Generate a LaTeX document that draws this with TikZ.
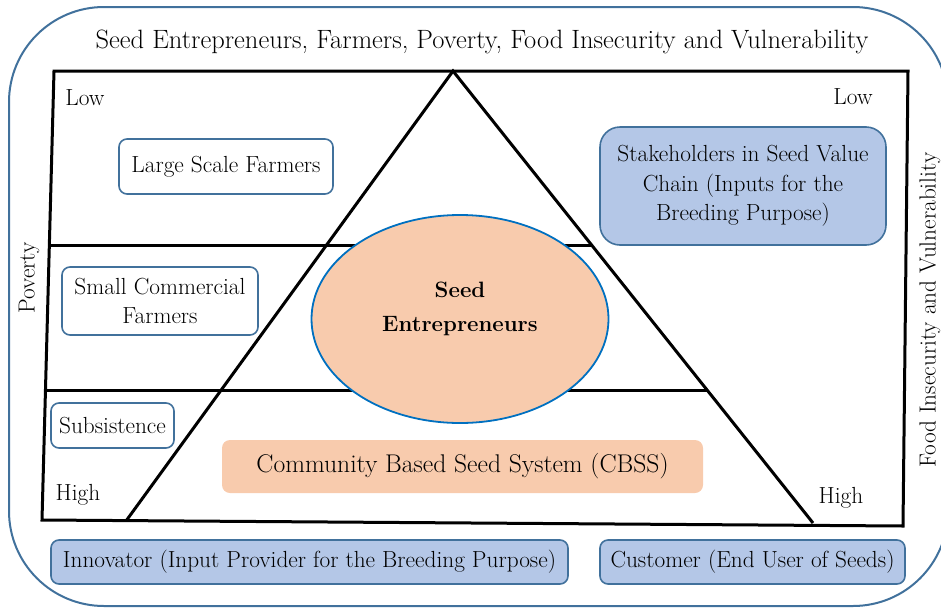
\documentclass[tikz,border=0pt]{standalone}
\usepackage{fontspec}
\usetikzlibrary{shapes.geometric}

\definecolor{edgeblue}{RGB}{65,113,156}
\definecolor{paleblue}{RGB}{180,199,231}
\definecolor{peach}{RGB}{248,203,173}
\definecolor{ringblue}{RGB}{0,112,192}

\tikzstyle{outer} = [draw=edgeblue, line width=2pt, rounded corners=95pt]
\tikzstyle{frameline} = [line width=3pt, black]
\tikzstyle{farmer} = [rectangle, rounded corners=8pt, draw=edgeblue, line width=1.6pt, fill=white, inner sep=0pt, text centered, align=center]
\tikzstyle{actor} = [rectangle, rounded corners=8pt, draw=edgeblue, line width=1.6pt, fill=paleblue, inner sep=0pt, text centered, align=center]
\tikzstyle{core} = [ellipse, draw=ringblue, line width=1.8pt, fill=peach, inner sep=0pt, align=center]
\tikzstyle{level} = [inner sep=0pt]

\begin{document}
\begin{tikzpicture}[x=1pt, y=-1pt, font=\fontsize{23.3}{29.5}\selectfont]
  \clip (0,0) rectangle (941,608);
  \draw[outer] (9,7) rectangle (948,606);

  % frame and pyramid
  \coordinate (tl) at (54,71);
  \coordinate (tr) at (908,71);
  \coordinate (br) at (903,526);
  \coordinate (bl) at (42,520);
  \coordinate (apex) at (453,71);
  \coordinate (baseL) at (126,521);
  \coordinate (baseR) at (813,523);
  \coordinate (upL) at (49.3,245);
  \coordinate (upR) at (591.6,245);
  \coordinate (lowL) at (45.5,390);
  \coordinate (lowR) at (707,390);

  \draw[frameline] (tl) -- (tr) -- (br) -- (bl) -- cycle;
  \draw[frameline] (baseL) -- (apex) -- (baseR);
  \draw[frameline] (upL) -- (upR);
  \draw[frameline] (lowL) -- (lowR);

  \node (title) [font=\fontsize{26.5}{30}\selectfont] at (482,42) {Seed Entrepreneurs, Farmers, Poverty, Food Insecurity and Vulnerability};
  \node (lowleft) [level] at (85,98) {Low};
  \node (lowright) [level] at (853,97) {Low};
  \node (highleft) [level] at (78,495) {High};
  \node (highright) [level] at (841,498) {High};
  \node (poverty) [level, rotate=90] at (29,278) {Poverty};
  \node (food) [level, rotate=90] at (930,310) {Food Insecurity and Vulnerability};

  \node (seed) [core, minimum width=297pt, minimum height=208pt,
    label={[align=center, font=\fontsize{22.2}{34}\selectfont\bfseries, yshift=10pt]center:Seed\\Entrepreneurs}] at (460,319) {};

  \node (large) [farmer, minimum width=214pt, minimum height=55pt] at (226,166.5) {Large Scale Farmers};
  \node (small) [farmer, minimum width=196pt, minimum height=68pt] at (160,301) {Small Commercial\\Farmers};
  \node (subs) [farmer, minimum width=123pt, minimum height=45pt] at (112.5,425.5) {Subsistence};
  \node (chain) [actor, rounded corners=20pt, minimum width=286pt, minimum height=118pt] at (743,186) {Stakeholders in Seed Value\\Chain (Inputs for the\\Breeding Purpose)};
  \node (cbss) [rectangle, rounded corners=8pt, fill=peach, minimum width=481pt, minimum height=53pt, font=\fontsize{25.6}{30}\selectfont] at (462.5,466.5) {Community Based Seed System (CBSS)};
  \node (innovator) [actor, minimum width=517pt, minimum height=44pt] at (309.5,562) {Innovator (Input Provider for the Breeding Purpose)};
  \node (customer) [actor, minimum width=305pt, minimum height=44pt] at (752.5,562) {Customer (End User of Seeds)};
\end{tikzpicture}
\end{document}
